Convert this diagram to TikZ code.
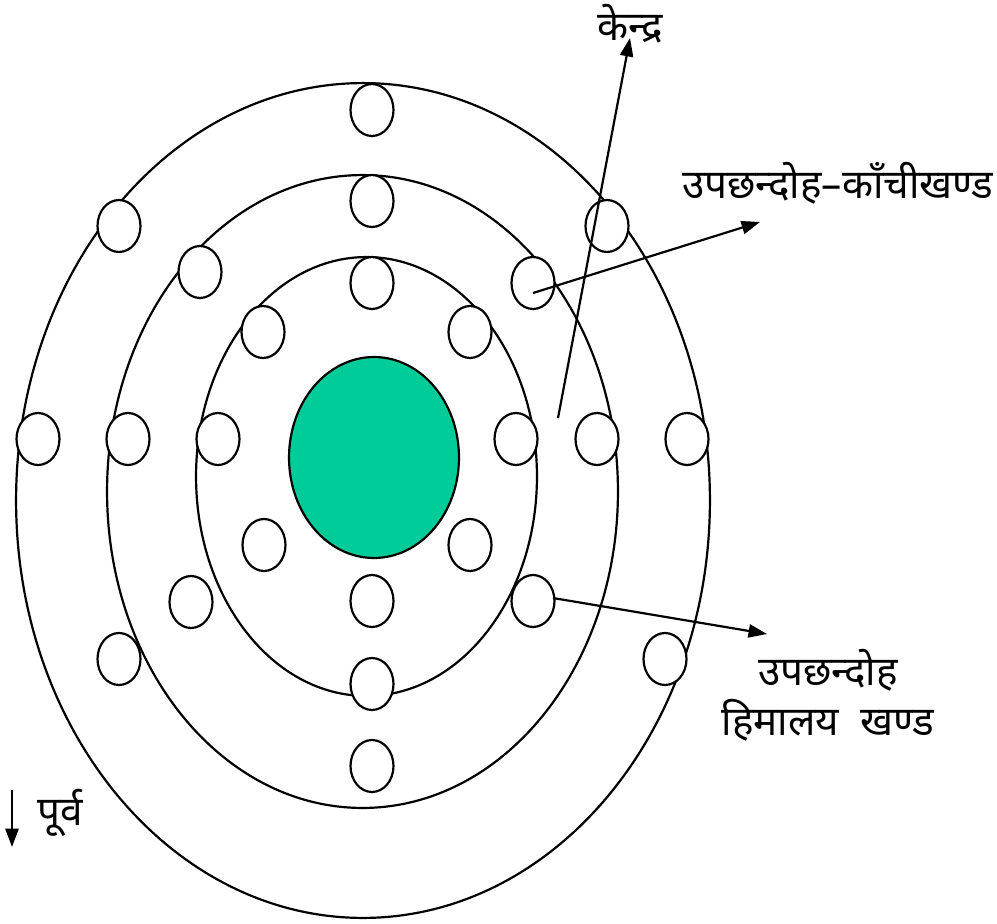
\documentclass[tikz,border=0pt]{standalone}
\usepackage{fontspec}
\newfontfamily\devfont[Script=Devanagari]{Noto Sans}
\usetikzlibrary{positioning, shapes.geometric, arrows.meta}
\definecolor{coregreen}{RGB}{0,204,153}

\begin{document}
\begin{tikzpicture}[x=0.02cm, y=-0.02cm,
    ring/.style={draw, line width=1.25pt},
    bead/.style={ellipse, draw, line width=1.25pt, fill=white, minimum width=0.86cm, minimum height=1.04cm, inner sep=0pt},
    core/.style={ellipse, draw, line width=1.25pt, fill=coregreen, minimum width=3.4cm, minimum height=4.02cm, inner sep=0pt},
    devtext/.style={font=\devfont\fontsize{23}{27}\selectfont, inner sep=1pt},
    pointer/.style={-{Triangle[length=10.5pt,width=7.5pt]}, line width=1.25pt}
]
\useasboundingbox (0,0) rectangle (997,923);

% tiers
\draw[ring] (363,500.5) ellipse [x radius=6.94cm, y radius=8.35cm];
\draw[ring] (362.5,491.5) ellipse [x radius=5.11cm, y radius=6.33cm];
\draw[ring] (366.5,476.5) ellipse [x radius=3.41cm, y radius=4.39cm];

% outer tier
\node[bead] (o1) at (372,110) {};
\node[bead] (o2) at (119,226) {};
\node[bead] (o3) at (607,226) {};
\node[bead] (o4) at (38,439) {};
\node[bead] (o5) at (687,439) {};
\node[bead] (o6) at (119,659) {};
\node[bead] (o7) at (665,659) {};
\node[bead] (o8) at (372,766) {};

% middle tier
\node[bead] (m1) at (372,201) {};
\node[bead] (m2) at (200,272) {};
\node[bead] (m3) at (533,283) {};
\node[bead] (m4) at (128,439) {};
\node[bead] (m5) at (597,439) {};
\node[bead] (m6) at (191,602) {};
\node[bead] (m7) at (533,601) {};
\node[bead] (m8) at (372,684) {};

% inner tier
\node[bead] (i1) at (372,283) {};
\node[bead] (i2) at (263,332) {};
\node[bead] (i3) at (470,332) {};
\node[bead] (i4) at (218,439) {};
\node[bead] (i5) at (516,439) {};
\node[bead] (i6) at (264,545) {};
\node[bead] (i7) at (470,545) {};
\node[bead] (i8) at (372,601) {};

% centre
\node[core] (core) at (374,457.5) {};

% labels
\node[devtext] (kendra) at (630,24) {केन्द्र};
\node[devtext] (kanchi) at (838,183) {उपछन्दोह–काँचीखण्ड};
\node[devtext] (himA) at (828,670) {उपछन्दोह};
\node[devtext] (himB) at (828,720) {हिमालय\ \ खण्ड};
\node[devtext] (purva) at (60,813) {पूर्व};

% pointers
\coordinate (kendra start) at (558,418);
\coordinate (kendra tip) at (630,38);
\coordinate (kanchi start) at (533,293);
\coordinate (kanchi tip) at (760,222);
\coordinate (him start) at (553,598);
\coordinate (him tip) at (767,634);
\coordinate (purva start) at (12,790);
\coordinate (purva tip) at (12,847);

\draw[pointer] (kendra start) -- (kendra tip);
\draw[pointer] (kanchi start) -- (kanchi tip);
\draw[pointer] (him start) -- (him tip);
\draw[pointer] (purva start) -- (purva tip);

\end{tikzpicture}
\end{document}
